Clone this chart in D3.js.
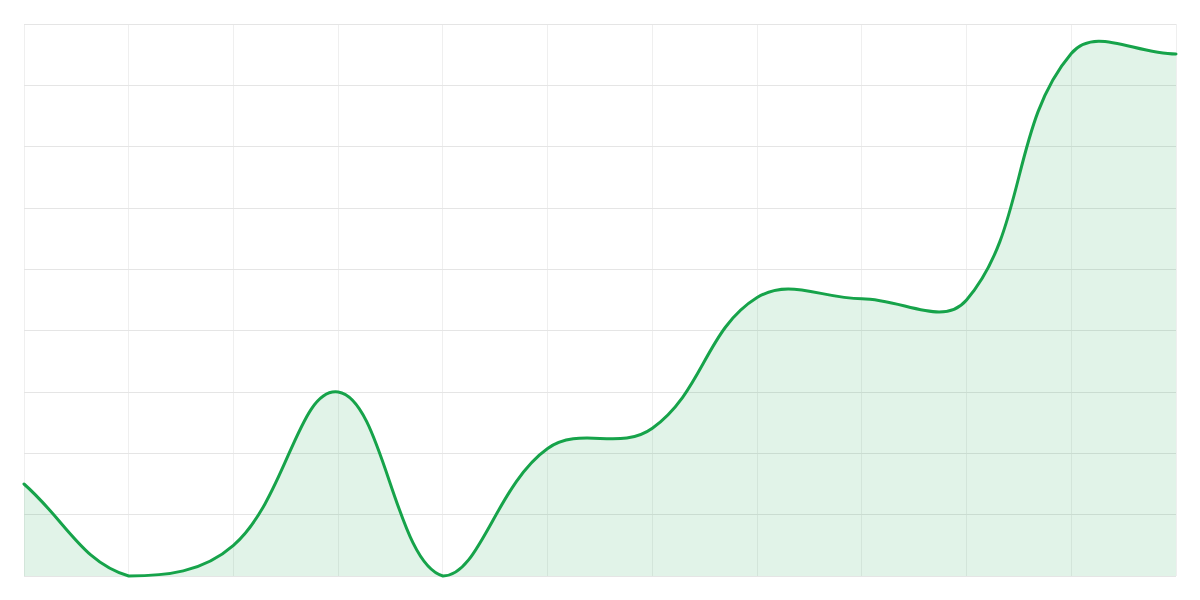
<!DOCTYPE html>
<html>
<head>
<meta charset="utf-8">
<script src="https://cdn.jsdelivr.net/npm/d3@7"></script>
<style>
  html, body { margin: 0; padding: 0; background: #ffffff; }
  svg { display: block; }
</style>
</head>
<body>
<svg id="chart" width="1200" height="600"></svg>
<script>
const categories = ["1","2","3","4","5","6","7","8","9","10","11","12"];
const values = [15, 0, 5, 30, 0, 20.8, 24.1, 45.4, 45.2, 45, 85.2, 85.1];
const yTicks = [0, 10, 20, 30, 40, 50, 60, 70, 80, 90];

(function () {
const W = 1200, H = 600;
const m = { top: 24, right: 24, bottom: 24, left: 24 };
const svg = d3.select("#chart");

const x = d3.scalePoint().domain(categories).range([m.left, W - m.right]);
const y = d3.scaleLinear().domain([0, 90]).range([H - m.bottom, m.top]);

// grid
const g = svg.append("g");
g.selectAll("line.v").data(categories).join("line")
  .attr("x1", d => x(d)).attr("x2", d => x(d))
  .attr("y1", m.top).attr("y2", H - m.bottom)
  .attr("stroke", "#efefef").attr("stroke-width", 1).attr("shape-rendering", "crispEdges");
g.selectAll("line.h").data(yTicks).join("line")
  .attr("x1", m.left).attr("x2", W - m.right)
  .attr("y1", d => y(d)).attr("y2", d => y(d))
  .attr("stroke", "#e5e5e5").attr("stroke-width", 1).attr("shape-rendering", "crispEdges");

// Chart.js-like spline (tension 0.4, control points capped to chart area)
const pts = values.map((v, i) => ({ x: x(categories[i]), y: y(v) }));
const t = 0.4;
const aL = m.left, aR = W - m.right, aT = m.top, aB = H - m.bottom;
const cap = (v, lo, hi) => Math.max(lo, Math.min(hi, v));
pts.forEach((p, i) => {
  const prev = pts[i - 1] || p, next = pts[i + 1] || p;
  const d01 = Math.hypot(p.x - prev.x, p.y - prev.y);
  const d12 = Math.hypot(next.x - p.x, next.y - p.y);
  let s01 = d01 / (d01 + d12), s12 = d12 / (d01 + d12);
  if (!isFinite(s01)) s01 = 0; if (!isFinite(s12)) s12 = 0;
  const fa = t * s01, fb = t * s12;
  p.c1x = cap(p.x - fa * (next.x - prev.x), aL, aR);
  p.c1y = cap(p.y - fa * (next.y - prev.y), aT, aB);
  p.c2x = cap(p.x + fb * (next.x - prev.x), aL, aR);
  p.c2y = cap(p.y + fb * (next.y - prev.y), aT, aB);
});
function buildLine(path) {
  path.moveTo(pts[0].x, pts[0].y);
  for (let i = 1; i < pts.length; i++) {
    const a = pts[i - 1], b = pts[i];
    path.bezierCurveTo(a.c2x, a.c2y, b.c1x, b.c1y, b.x, b.y);
  }
  return path;
}
const linePath = buildLine(d3.path());
const areaPath = buildLine(d3.path());
areaPath.lineTo(pts[pts.length - 1].x, y(0));
areaPath.lineTo(pts[0].x, y(0));
areaPath.closePath();

svg.append("path").attr("d", areaPath.toString())
  .attr("fill", "rgba(22,163,74,0.13)").attr("stroke", "none");
svg.append("path").attr("d", linePath.toString())
  .attr("fill", "none").attr("stroke", "#16a34a").attr("stroke-width", 3)
  .attr("stroke-linejoin", "round").attr("stroke-linecap", "round");
})();
</script>
</body>
</html>
